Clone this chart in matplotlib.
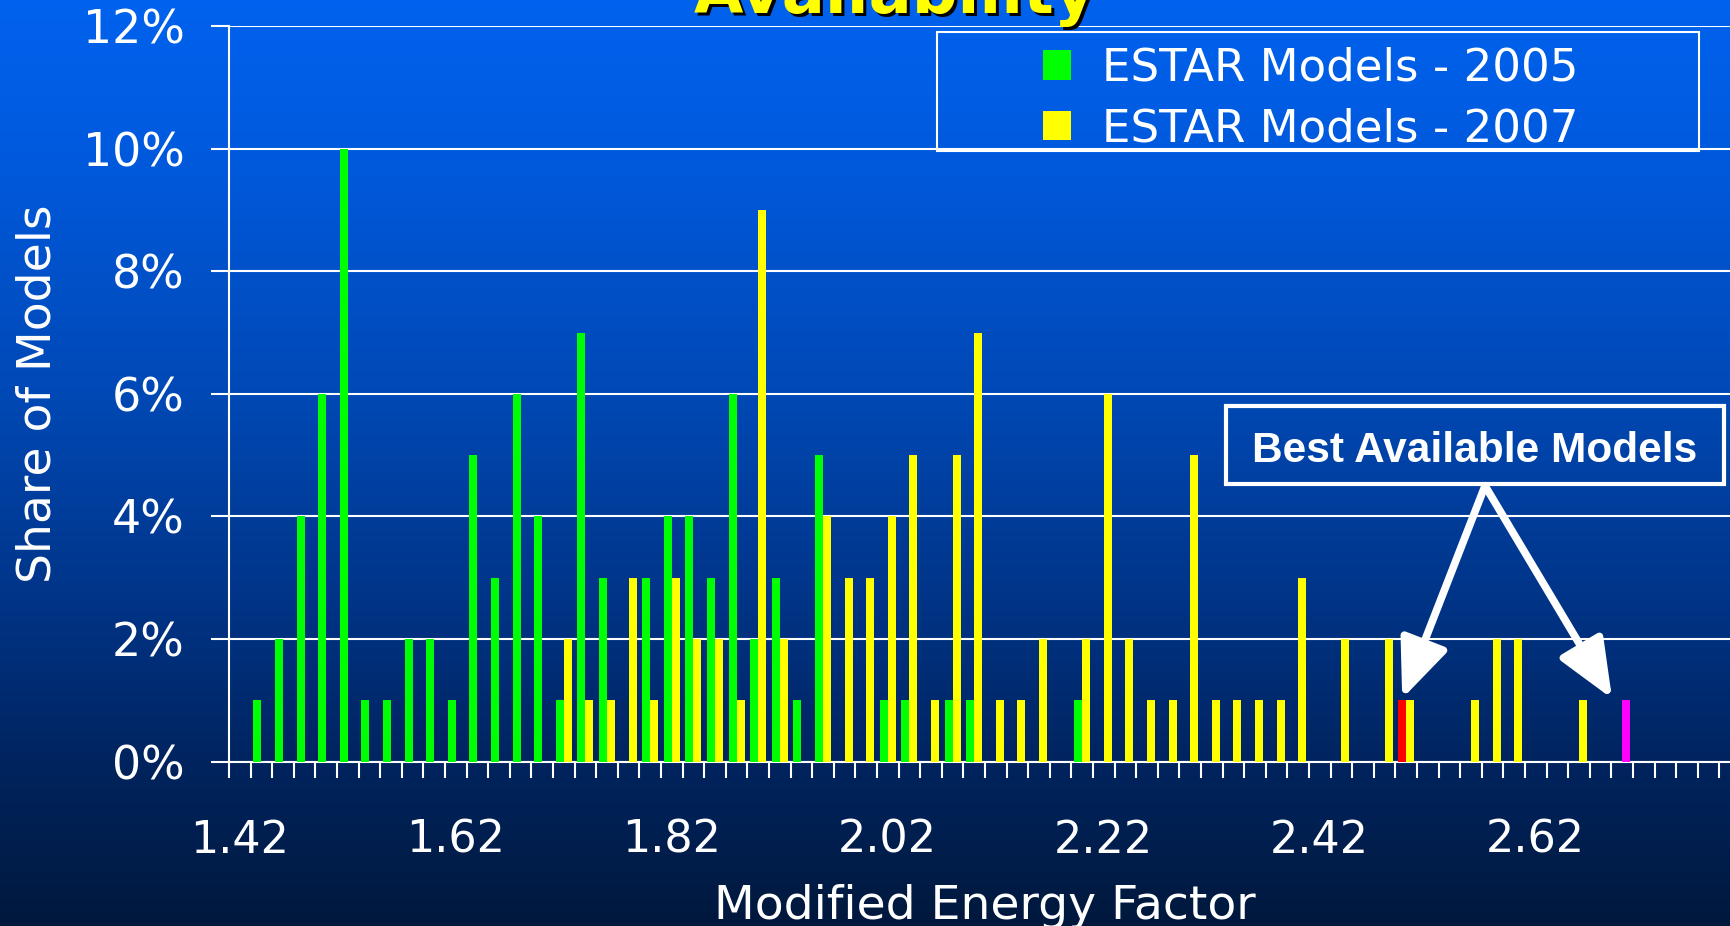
import numpy as np
import matplotlib
matplotlib.use("Agg")
import matplotlib.pyplot as plt
from matplotlib.patches import Rectangle

# ---------------- data ----------------
categories = [1.42, 1.44, 1.46, 1.48, 1.50, 1.52, 1.54, 1.56, 1.58, 1.60,
              1.62, 1.64, 1.66, 1.68, 1.70, 1.72, 1.74, 1.76, 1.78, 1.80,
              1.82, 1.84, 1.86, 1.88, 1.90, 1.92, 1.94, 1.96, 1.98, 2.00,
              2.02, 2.04, 2.06, 2.08, 2.10, 2.12, 2.14, 2.16, 2.18, 2.20,
              2.22, 2.24, 2.26, 2.28, 2.30, 2.32, 2.34, 2.36, 2.38, 2.40,
              2.42, 2.44, 2.46, 2.48, 2.50, 2.52, 2.54, 2.56, 2.58, 2.60,
              2.62, 2.64, 2.66, 2.68, 2.70, 2.72, 2.74, 2.76, 2.78, 2.80]

share_2005 = [0, 1, 2, 4, 6, 10, 1, 1, 2, 2,
              1, 5, 3, 6, 4, 1, 7, 3, 0, 3,
              4, 4, 3, 6, 2, 3, 1, 5, 0, 0,
              1, 1, 0, 1, 1, 0, 0, 0, 0, 1,
              0, 0, 0, 0, 0, 0, 0, 0, 0, 0,
              0, 0, 0, 0, 1, 0, 0, 0, 0, 0,
              0, 0, 0, 0, 0, 0, 0, 0, 0, 0]

share_2007 = [0, 0, 0, 0, 0, 0, 0, 0, 0, 0,
              0, 0, 0, 0, 0, 2, 1, 1, 3, 1,
              3, 2, 2, 1, 9, 2, 0, 4, 3, 3,
              4, 5, 1, 5, 7, 1, 1, 2, 0, 2,
              6, 2, 1, 1, 5, 1, 1, 1, 1, 3,
              0, 2, 0, 2, 1, 0, 0, 1, 2, 2,
              0, 0, 1, 0, 1, 0, 0, 0, 0, 0]

best_2005 = 2.50
best_2007 = 2.70

x_tick_labels = ["1.42", "1.62", "1.82", "2.02", "2.22", "2.42", "2.62"]
y_ticks = [0, 2, 4, 6, 8, 10, 12]
y_tick_labels = ["0%", "2%", "4%", "6%", "8%", "10%", "12%"]
series_labels = ["ESTAR Models - 2005", "ESTAR Models - 2007"]

# ---------------- figure ----------------
W, H = 1731, 926
fig = plt.figure(figsize=(W / 100, H / 100), dpi=100)

# gradient background
bg = fig.add_axes([0, 0, 1, 1], zorder=0)
stops_y = [0, 150, 400, 600, 760, 926]
stops_rgb = [(0, 98, 238), (0, 90, 222), (0, 72, 180), (0, 52, 135), (0, 36, 95), (0, 24, 60)]
yy = np.arange(H)
grad = np.stack([np.interp(yy, stops_y, [c[k] for c in stops_rgb]) for k in range(3)], axis=-1) / 255.0
img = np.repeat(grad[:, None, :], 2, axis=1)
bg.imshow(img, aspect="auto", extent=(0, 1, 0, 1))
bg.set_axis_off()

ax = fig.add_axes([229 / W, 1 - 761.7 / H, 1512 / W, (761.7 - 26) / H], zorder=1)
ax.set_facecolor("none")

n = len(categories)
x = np.arange(n)
bw = 0.37
c05 = ["#FF0000" if abs(c - best_2005) < 1e-9 else "#00FF00" for c in categories]
c07 = ["#FF00FF" if abs(c - best_2007) < 1e-9 else "#FFFF00" for c in categories]
b05 = ax.bar(x - bw / 2, share_2005, width=bw, color=c05, linewidth=0, zorder=3)
b07 = ax.bar(x + bw / 2, share_2007, width=bw, color=c07, linewidth=0, zorder=3)

ax.set_xlim(-0.5, n - 0.5)
ax.set_ylim(0, 12)

# y axis
ax.set_yticks(y_ticks)
ax.set_yticklabels(y_tick_labels)
ax.tick_params(axis="y", direction="out", length=13, width=1.5, color="white",
               labelcolor="white", labelsize=33, pad=19)
ax.yaxis.grid(True, color="white", linewidth=1.5)
ax.set_axisbelow(True)

# x axis
label_pos = [categories.index(float(t)) for t in x_tick_labels]
ax.set_xticks(label_pos)
ax.set_xticklabels(x_tick_labels)
ax.set_xticks(np.arange(-0.5, n, 1.0), minor=True)
ax.tick_params(axis="x", which="major", length=0, pad=41, labelsize=32, labelcolor="white")
ax.tick_params(axis="x", which="minor", direction="out", length=11.5, width=1.5, color="white")

for s in ["top", "right"]:
    ax.spines[s].set_visible(False)
for s in ["left", "bottom"]:
    ax.spines[s].set_color("white")
    ax.spines[s].set_linewidth(1.5)

ax.set_xlabel("Modified Energy Factor", fontsize=34, color="white", labelpad=16)
ax.set_ylabel("Share of Models", fontsize=34, color="white", labelpad=16)

# legend with separate frame
leg = ax.legend([b05, b07], series_labels, loc="center",
                bbox_to_anchor=(1311 / W, 1 - 98.5 / H), bbox_transform=fig.transFigure,
                frameon=False, fontsize=32.5, handlelength=0.62, handleheight=0.62,
                handletextpad=0.68, labelspacing=0.38, borderpad=0, borderaxespad=0)
for t in leg.get_texts():
    t.set_color("white")
ax.add_patch(Rectangle((937 / W, 1 - 151 / H), (1699 - 937) / W, (151 - 32) / H,
                       transform=fig.transFigure, fill=False, edgecolor="white",
                       linewidth=1.5, clip_on=False, zorder=6))

# title (partially cut off at the top)
fig.text(898 / W, 1 - 16 / H, "Availability", color="black", fontsize=46,
         fontweight="bold", ha="center", va="baseline", zorder=5)
fig.text(895 / W, 1 - 13 / H, "Availability", color="#FFFF00", fontsize=46,
         fontweight="bold", ha="center", va="baseline", zorder=6)

# annotation box
ax.add_patch(Rectangle((1226 / W, 1 - 484 / H), 498 / W, 78 / H,
                       transform=fig.transFigure, fill=False, edgecolor="white",
                       linewidth=3, clip_on=False, zorder=6))
ax.text(1475 / W, 1 - 461.7 / H, "Best Available Models", transform=fig.transFigure,
        fontfamily="Liberation Sans", fontweight="bold", fontsize=30.5,
        color="white", ha="center", va="baseline", zorder=7)

i05 = categories.index(best_2005)
i07 = categories.index(best_2007)
apex = (57.65, 4.5)
tips = [(i05 - bw / 2, share_2005[i05] + 0.03), (i07 - 0.47, share_2007[i07] + 0.03)]
for tip in tips:
    ax.annotate("", xy=tip, xytext=apex,
                arrowprops=dict(arrowstyle="-|>,head_length=1.0,head_width=0.42",
                                mutation_scale=36, lw=5.5, color="white",
                                shrinkA=0, shrinkB=0),
                zorder=7, annotation_clip=False)

fig.savefig("out.png", dpi=100)
